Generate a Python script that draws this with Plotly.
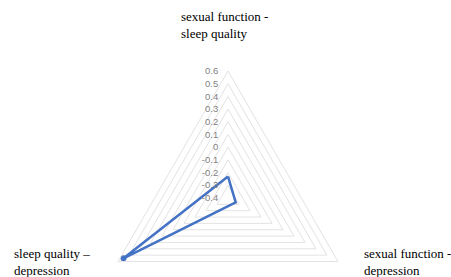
import plotly.graph_objects as go

categories = ["sexual function - sleep quality", "sexual function - depression", "sleep quality – depression"]
label_lines = ["sexual function -<br>sleep quality", "sexual function -<br>depression", "sleep quality –<br>depression"]
values = [-0.23, -0.33, 0.55]
radial_range = [-0.4, 0.6]
radial_ticks = [-0.4, -0.3, -0.2, -0.1, 0, 0.1, 0.2, 0.3, 0.4, 0.5, 0.6]

W, H = 451, 330
cx, cy, R = 228, 198, 127

fig = go.Figure()
fig.add_trace(go.Scatterpolar(
    r=values + values[:1],
    theta=categories + categories[:1],
    mode="lines+markers",
    line=dict(color="#4472C4", width=2.5),
    marker=dict(color="#4472C4", size=6),
    showlegend=False,
))

fig.update_layout(
    width=W, height=H,
    margin=dict(l=0, r=0, t=0, b=0),
    paper_bgcolor="white",
    plot_bgcolor="white",
    polar=dict(
        domain=dict(x=[(cx - R) / W, (cx + R) / W], y=[1 - (cy + R) / H, 1 - (cy - R) / H]),
        gridshape="linear",
        bgcolor="white",
        radialaxis=dict(
            range=radial_range,
            tickvals=radial_ticks,
            ticktext=[("%g" % v) for v in radial_ticks],
            angle=90,
            tickangle=90,
            side="counterclockwise",
            showline=False,
            ticks="outside",
            ticklen=6,
            tickcolor="rgba(0,0,0,0)",
            gridcolor="#e3e3e3",
            gridwidth=1,
            tickfont=dict(family="Liberation Sans, Arial", size=9.5, color="#7f7f7f"),
        ),
        angularaxis=dict(
            rotation=90,
            direction="clockwise",
            showticklabels=False,
            ticks="",
            showgrid=False,
            showline=True,
            linecolor="#e3e3e3",
            linewidth=1,
        ),
    ),
)

label_pos = [(179, 25), (362, 262), (12, 262)]
for txt, (px, py) in zip(label_lines, label_pos):
    fig.add_annotation(
        x=px / W, y=1 - py / H, xref="paper", yref="paper",
        text=txt, showarrow=False, xanchor="left", yanchor="middle", align="left",
        font=dict(family="Liberation Serif, Times New Roman", size=13, color="black"),
    )

fig.write_html(
    "out.html",
    config={"displayModeBar": False},
    post_script="document.body.style.margin='0';document.body.style.overflow='hidden';document.documentElement.style.overflow='hidden';",
)
